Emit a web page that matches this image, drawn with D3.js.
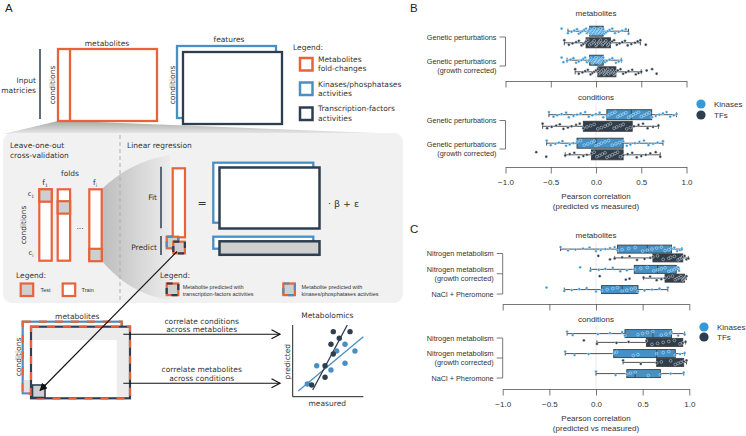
<!DOCTYPE html>
<html><head><meta charset="utf-8">
<script src="https://cdn.jsdelivr.net/npm/d3@7"></script>
<style>body{margin:0;background:#fff} svg{display:block}</style>
</head><body>
<svg id="c" width="746" height="436"></svg>
<script>
// ---------------- DATA ----------------
const huesBC = ["Kinases", "TFs"];
const facetTitles = ["metabolites", "conditions"];
const categoriesB = ["Genetic perturbations", "Genetic perturbations|(growth corrected)"];
const categoriesC = ["Nitrogen metabolism", "Nitrogen metabolism|(growth corrected)", "NaCl + Pheromone"];
const xTickValues = [-1, -0.5, 0, 0.5, 1];
const axisTitle = ["Pearson correlation", "(predicted vs measured)"];

// box stats: [whiskerLow, q1, median, q3, whiskerHigh]
const statsB_metabolites_Kinases = [[-0.31, -0.07, 0.01, 0.08, 0.36], [-0.32, -0.07, 0.0, 0.08, 0.28]];
const statsB_metabolites_TFs     = [[-0.35, -0.11, 0.03, 0.16, 0.49], [-0.23, 0.02, 0.12, 0.22, 0.50]];
const statsB_conditions_Kinases  = [[-0.52, 0.12, 0.39, 0.615, 0.89], [-0.545, -0.21, 0.0, 0.30, 0.74]];
const statsB_conditions_TFs      = [[-0.59, -0.14, 0.13, 0.40, 0.69], [-0.34, -0.05, 0.10, 0.30, 0.71]];
const statsC_metabolites_Kinases = [[-0.38, 0.23, 0.55, 0.81, 0.92], [-0.06, 0.41, 0.66, 0.86, 0.89], [-0.34, 0.06, 0.28, 0.45, 0.77]];
const statsC_metabolites_TFs     = [[0.20, 0.61, 0.80, 0.93, 0.99], [0.51, 0.74, 0.87, 0.95, 0.97], null];
const statsC_conditions_Kinases  = [[-0.31, 0.31, 0.61, 0.81, 0.95], [-0.33, 0.19, 0.65, 0.85, 0.95], [0.0, 0.33, 0.42, 0.69, 0.94]];
const statsC_conditions_TFs      = [[0.01, 0.54, 0.70, 0.93, 0.96], [0.29, 0.65, 0.77, 0.94, 0.97], null];

const pointsB_metabolites_Kinases = [
  [-0.38,-0.31,-0.27,-0.24,-0.21,-0.19,-0.17,-0.15,-0.13,-0.11,-0.1,-0.09,-0.08,-0.07,-0.06,-0.05,-0.04,-0.03,-0.02,-0.02,-0.01,0,0.01,0.01,0.02,0.03,0.04,0.05,0.05,0.06,0.07,0.08,0.09,0.11,0.13,0.15,0.18,0.21,0.25,0.29,0.33,0.36],
  [-0.38,-0.36,-0.32,-0.28,-0.25,-0.22,-0.19,-0.16,-0.14,-0.12,-0.1,-0.08,-0.07,-0.06,-0.04,-0.03,-0.02,-0.01,0,0,0.01,0.02,0.03,0.04,0.05,0.06,0.07,0.08,0.1,0.12,0.15,0.18,0.22,0.25,0.28]];
const pointsB_metabolites_TFs = [
  [-0.35,-0.3,-0.26,-0.22,-0.19,-0.16,-0.14,-0.12,-0.11,-0.09,-0.07,-0.05,-0.03,-0.02,0,0.01,0.03,0.04,0.05,0.07,0.08,0.1,0.11,0.13,0.14,0.16,0.18,0.2,0.23,0.26,0.29,0.32,0.35,0.39,0.43,0.46,0.49,0.55],
  [-0.23,-0.19,-0.15,-0.12,-0.09,-0.06,-0.04,-0.02,0,0.02,0.03,0.05,0.06,0.08,0.09,0.1,0.11,0.12,0.13,0.14,0.16,0.17,0.18,0.2,0.21,0.22,0.24,0.27,0.3,0.33,0.36,0.4,0.44,0.47,0.5,0.56,0.62,0.67]];
const pointsB_conditions_Kinases = [
  [-0.52,-0.47,-0.43,-0.38,-0.33,-0.3,-0.25,-0.21,-0.17,-0.12,-0.08,-0.04,0.0,0.04,0.08,0.12,0.15,0.18,0.21,0.24,0.27,0.3,0.33,0.36,0.39,0.41,0.44,0.47,0.5,0.53,0.56,0.59,0.62,0.66,0.7,0.74,0.78,0.82,0.86,0.89],
  [-0.545,-0.5,-0.45,-0.41,-0.37,-0.33,-0.29,-0.25,-0.21,-0.17,-0.13,-0.09,-0.05,-0.02,0,0.03,0.06,0.1,0.14,0.18,0.22,0.26,0.3,0.34,0.38,0.43,0.48,0.53,0.58,0.63,0.68,0.74]];
const pointsB_conditions_TFs = [
  [-0.59,-0.54,-0.49,-0.44,-0.4,-0.36,-0.31,-0.27,-0.22,-0.18,-0.14,-0.1,-0.06,-0.02,0.02,0.06,0.1,0.13,0.16,0.2,0.23,0.27,0.3,0.34,0.38,0.42,0.47,0.52,0.57,0.63,0.69],
  [-0.66,-0.55,-0.34,-0.29,-0.24,-0.19,-0.14,-0.1,-0.05,-0.02,0.01,0.04,0.07,0.1,0.12,0.15,0.18,0.21,0.24,0.27,0.3,0.35,0.4,0.45,0.5,0.55,0.6,0.66,0.71]];
const pointsC_metabolites_Kinases = [
  [-0.38,-0.3,-0.22,-0.14,-0.07,0.0,0.05,0.1,0.15,0.2,0.23,0.28,0.35,0.42,0.5,0.55,0.6,0.65,0.7,0.74,0.78,0.81,0.84,0.87,0.9,0.92],
  [-0.17,-0.06,0.03,0.1,0.18,0.26,0.33,0.41,0.48,0.55,0.62,0.66,0.7,0.74,0.78,0.81,0.84,0.86,0.88,0.89],
  [-0.53,-0.34,-0.26,-0.18,-0.1,0.0,0.06,0.12,0.18,0.23,0.28,0.33,0.38,0.42,0.45,0.52,0.6,0.68,0.77]];
const pointsC_metabolites_TFs = [
  [0.025,0.15,0.2,0.28,0.36,0.44,0.52,0.58,0.61,0.66,0.72,0.78,0.8,0.84,0.88,0.9,0.92,0.93,0.95,0.97,0.99],
  [0.04,0.32,0.36,0.51,0.58,0.65,0.7,0.74,0.78,0.82,0.85,0.87,0.89,0.91,0.93,0.94,0.95,0.96,0.97],
  []];
const pointsC_conditions_Kinases = [
  [-0.31,-0.25,0.02,0.15,0.28,0.31,0.45,0.5,0.55,0.61,0.7,0.75,0.8,0.81,0.88,0.95],
  [-0.33,-0.23,-0.08,0.19,0.22,0.4,0.45,0.65,0.72,0.78,0.85,0.9,0.95],
  [0.0,0.21,0.33,0.37,0.42,0.56,0.69,0.8,0.94]];
const pointsC_conditions_TFs = [
  [-0.13,0.01,0.22,0.35,0.54,0.6,0.66,0.72,0.78,0.84,0.9,0.93,0.96],
  [0.29,0.48,0.65,0.7,0.8,0.85,0.88,0.91,0.94,0.97],
  []];

// schematic scatter (panel A, "Metabolomics")
const schemMeasuredDark  = [5.75, 8.12, 6.6, 5.42, 5.75, 4.58, 4.58, 2.69];
const schemPredictedDark = [9.07, 9.07, 8.15, 7.31, 5.96, 4.32, 2.71, 1.63];
const schemMeasuredBlue  = [7.41, 6.23, 8.82, 3.4, 5.42, 7.41, 2.07];
const schemPredictedBlue = [7.31, 6.37, 6.37, 4.32, 3.72, 4.66, 1.77];
const schemFitDark = [[2.83, 0.93], [7.73, 10.0]];
const schemFitBlue = [[0.79, 0.79], [10.0, 8.37]];

// ---------------- STYLE ----------------
const svg = d3.select("#c");
const ORANGE = "#e8623a", BLUE = "#4a8fc1", DARK = "#2c3e50", GRAYF = "#cfcfcf", PANEL = "#f1f1f1";
const KIN = "#3498db", TF = "#2c3e50", KINBOX = "#4790c4", TFBOX = "#303e4b", LINE = "#3d3d3d";
const FA = "DejaVu Sans, Verdana, sans-serif";
const FB = "Liberation Sans, Arial, Helvetica, sans-serif";
const TXT = "#333";

const defs = svg.append("defs");
const g1 = defs.append("linearGradient").attr("id", "wedge1").attr("x1", 0).attr("y1", 0).attr("x2", 0).attr("y2", 1);
g1.append("stop").attr("offset", 0).attr("stop-color", "#a9a9a9");
g1.append("stop").attr("offset", 1).attr("stop-color", "#e9e9e9");
const g2 = defs.append("linearGradient").attr("id", "wedge2").attr("x1", 0).attr("y1", 0).attr("x2", 1).attr("y2", 0);
g2.append("stop").attr("offset", 0).attr("stop-color", "#bdbdbd");
g2.append("stop").attr("offset", 1).attr("stop-color", "#ececec");
defs.append("marker").attr("id", "ah").attr("viewBox", "0 0 10 10").attr("refX", 9).attr("refY", 5)
  .attr("markerWidth", 7).attr("markerHeight", 7).attr("orient", "auto")
  .append("path").attr("d", "M0,0 L10,5 L0,10 Z").attr("fill", "#111");

function txt(x, y, s, o = {}) {
  return svg.append("text").attr("x", x).attr("y", y).text(s)
    .attr("font-family", o.ff || FA).attr("font-size", o.fs || 7.5)
    .attr("fill", o.fill || TXT).attr("text-anchor", o.anchor || "start");
}
function vtxt(x, y, s, o = {}) {
  return svg.append("text").attr("transform", `translate(${x},${y}) rotate(-90)`).text(s)
    .attr("font-family", o.ff || FA).attr("font-size", o.fs || 7.5)
    .attr("fill", o.fill || TXT).attr("text-anchor", "middle");
}
function box(x, y, w, h, stroke, fill = "#fff", sw = 2.3) {
  return svg.append("rect").attr("x", x).attr("y", y).attr("width", w).attr("height", h)
    .attr("fill", fill).attr("stroke", stroke).attr("stroke-width", sw);
}
function dualBox(x, y, w, h, c1, c2, fill, sw, dash) {
  box(x, y, w, h, c1, fill, sw);
  svg.append("rect").attr("x", x).attr("y", y).attr("width", w).attr("height", h)
    .attr("fill", "none").attr("stroke", c2).attr("stroke-width", sw).attr("stroke-dasharray", dash);
}

// ---------------- PANEL LETTERS ----------------
txt(5, 12, "A", { ff: FB, fs: 11.5, fill: "#222" });
txt(410, 12, "B", { ff: FB, fs: 11.5, fill: "#222" });
txt(410, 233, "C", { ff: FB, fs: 11.5, fill: "#222" });

// ---------------- PANEL A: top ----------------
svg.append("line").attr("x1", 40).attr("x2", 40).attr("y1", 49).attr("y2", 119).attr("stroke", DARK).attr("stroke-width", 1.5);
txt(36, 83, "Input", { anchor: "end" });
txt(36, 93, "matricies", { anchor: "end" });
// projection wedge
svg.append("path").attr("d", "M58,121 L70,121 L403,134 L3,134 Z").attr("fill", "url(#wedge1)");
box(58, 49, 99, 72, ORANGE);
svg.append("line").attr("x1", 70).attr("x2", 70).attr("y1", 49).attr("y2", 121).attr("stroke", ORANGE).attr("stroke-width", 2.3);
txt(107, 45.5, "metabolites", { anchor: "middle" });
vtxt(54.5, 85, "conditions");
box(177, 46, 99, 72, BLUE);
box(183, 52, 99, 72, DARK);
txt(229, 42, "features", { anchor: "middle" });
vtxt(174.5, 85, "conditions");
// legend
txt(293, 50, "Legend:");
box(300, 58, 12.5, 12.5, ORANGE, "#fff", 2.5);
box(300, 82.5, 12.5, 12.5, BLUE, "#fff", 2.5);
box(300, 107.5, 12.5, 12.5, DARK, "#fff", 2.5);
txt(318, 62, "Metabolites"); txt(318, 71, "fold-changes");
txt(318, 86.5, "Kinases/phosphatases"); txt(318, 95.5, "activities");
txt(318, 111, "Transcription-factors"); txt(318, 120.5, "activities");

// ---------------- PANEL A: middle grey panel ----------------
svg.append("rect").attr("x", 3).attr("y", 133).attr("width", 400).attr("height", 170).attr("rx", 9).attr("fill", PANEL);
svg.append("path").attr("d", "M102,189 C120,172 140,160 170,155 L 170,300 C140,296 118,280 102,261 Z").attr("fill", "url(#wedge2)");
svg.append("line").attr("x1", 120).attr("x2", 120).attr("y1", 135).attr("y2", 300)
  .attr("stroke", "#aaa").attr("stroke-width", 0.9).attr("stroke-dasharray", "4,3");
txt(10, 148, "Leave-one-out"); txt(10, 158, "cross-validation");
txt(127, 148, "Linear regression");
txt(70, 176, "folds", { anchor: "middle" });
const fLab = (x, sub) => {
  const t = txt(x, 185, "f", { anchor: "middle" });
  t.append("tspan").attr("font-size", 4.5).attr("dy", 1.5).text(sub);
};
fLab(45, "1"); fLab(95, "i");
const cLab = (y, sub) => {
  const t = txt(31, y, "c", { anchor: "middle", fs: 6.5 });
  t.append("tspan").attr("font-size", 4.5).attr("dy", 1.5).text(sub);
};
cLab(196, "1"); cLab(255, "i");
vtxt(26, 225, "conditions");
// fold columns
const foldX = [39.3, 57.7, 89.3], foldTest = [0, 1, 5];
foldX.forEach((fx, k) => {
  box(fx, 189.3, 12.4, 71.4, ORANGE, "#fff", 2.2);
  const ty = 189.3 + foldTest[k] * 11.9;
  box(fx, ty, 12.4, 12.4, ORANGE, GRAYF, 2.2);
});
txt(80, 229, "...", { anchor: "middle" });
txt(16, 278, "Legend:");
box(20.7, 283.5, 12.5, 12.5, ORANGE, GRAYF, 2.2);
box(62.7, 283.5, 12.5, 12.5, ORANGE, "#fff", 2.2);
txt(40.5, 292, "Test", { ff: FB, fs: 5.5 });
txt(81.5, 292, "Train", { ff: FB, fs: 5.5 });
// regression
svg.append("line").attr("x1", 161).attr("x2", 161).attr("y1", 166.7).attr("y2", 228.3).attr("stroke", DARK).attr("stroke-width", 1.5);
txt(157, 199.5, "Fit", { anchor: "end" });
box(172.7, 168.3, 12.3, 69, ORANGE, "#fff", 2.2);
txt(202, 207, "=", { anchor: "middle", fs: 11 });
box(213.3, 162.7, 100, 60, BLUE);
box(219.5, 167.5, 100, 61, DARK, "#fff", 2.5);
txt(328, 206.5, "· β +  ε", { fs: 9.5 });
svg.append("line").attr("x1", 161).attr("x2", 161).attr("y1", 236).attr("y2", 255).attr("stroke", DARK).attr("stroke-width", 1.5);
txt(157, 250, "Predict", { anchor: "end" });
dualBox(166.7, 236.7, 11.6, 11.6, ORANGE, BLUE, GRAYF, 2.2, "6,6");
dualBox(173.3, 241.7, 11.6, 11.6, ORANGE, DARK, GRAYF, 2.2, "6,6");
box(213.3, 236.7, 100, 12, BLUE);
box(219.5, 241.3, 100, 13.5, DARK, GRAYF, 2.5);
txt(160, 278, "Legend:");
dualBox(166.7, 283.5, 11.6, 11.6, ORANGE, DARK, GRAYF, 2.2, "6,6");
txt(182.7, 288.5, "Metabolite predicted with", { ff: FB, fs: 5.5 });
txt(182.7, 295.5, "transcription-factors activities", { ff: FB, fs: 5.5 });
dualBox(283.3, 283.5, 11.6, 11.6, ORANGE, BLUE, GRAYF, 2.2, "6,6");
txt(301.5, 288.5, "Metabolite predicted with", { ff: FB, fs: 5.5 });
txt(301.5, 295.5, "kinases/phosphatases activities", { ff: FB, fs: 5.5 });

// ---------------- PANEL A: bottom ----------------
txt(77.3, 318.5, "metabolites", { anchor: "middle" });
vtxt(21, 357, "conditions");
dualBox(22.7, 321.7, 99, 71.6, BLUE, ORANGE, "#fff", 2.2, "8,8");
svg.append("rect").attr("x", 23.8).attr("y", 380).attr("width", 8).attr("height", 12.2).attr("fill", "#e3e3e3");
svg.append("rect").attr("x", 31).attr("y", 326.7).attr("width", 99).attr("height", 71.6).attr("fill", "#fff");
svg.append("rect").attr("x", 32).attr("y", 328).attr("width", 97).attr("height", 12).attr("fill", "#ececec");
svg.append("rect").attr("x", 116.7).attr("y", 328).attr("width", 12.3).attr("height", 69.5).attr("fill", "#ececec");
dualBox(31, 326.7, 99, 71.6, DARK, ORANGE, "none", 2.2, "8,8");
box(32.5, 385, 12.5, 12.5, DARK, GRAYF, 1.6);
txt(201.7, 323.5, "correlate conditions", { anchor: "middle" });
txt(201.7, 332, "across metabolites", { anchor: "middle" });
txt(201.7, 372, "correlate metabolites", { anchor: "middle" });
txt(201.7, 381, "across conditions", { anchor: "middle" });
[334.3, 383.3].forEach(yy => {
  svg.append("line").attr("x1", 123.3).attr("x2", 280).attr("y1", yy).attr("y2", yy).attr("stroke", "#111").attr("stroke-width", 1.1);
  svg.append("path").attr("d", `M271.5,${yy - 4.5} L280,${yy} L271.5,${yy + 4.5}`).attr("fill", "none").attr("stroke", "#111").attr("stroke-width", 1.2);
});
// arrow from predicted cell to bottom matrix
svg.append("line").attr("x1", 177).attr("y1", 251.5).attr("x2", 40).attr("y2", 390.5)
  .attr("stroke", "#111").attr("stroke-width", 1.1).attr("marker-end", "url(#ah)");

// schematic scatter
const sx = d3.scaleLinear().domain([0, 10]).range([292.7, 363.3]);
const sy = d3.scaleLinear().domain([0, 10]).range([396.7, 325]);
txt(327.3, 318, "Metabolomics", { anchor: "middle" });
svg.append("path").attr("d", `M${sx(0)},${sy(10)} L${sx(0)},${sy(0)} L${sx(10)},${sy(0)}`).attr("fill", "none").attr("stroke", "#222").attr("stroke-width", 1);
vtxt(289.5, 361.7, "predicted");
txt(327.3, 406, "measured", { anchor: "middle" });
const line = d3.line().x(d => sx(d[0])).y(d => sy(d[1]));
svg.append("path").attr("d", line(schemFitBlue)).attr("stroke", BLUE).attr("stroke-width", 1.3).attr("fill", "none");
svg.append("path").attr("d", line(schemFitDark)).attr("stroke", DARK).attr("stroke-width", 1.3).attr("fill", "none");
schemMeasuredBlue.forEach((m, i) => svg.append("circle").attr("cx", sx(m)).attr("cy", sy(schemPredictedBlue[i])).attr("r", 2.7).attr("fill", BLUE));
schemMeasuredDark.forEach((m, i) => svg.append("circle").attr("cx", sx(m)).attr("cy", sy(schemPredictedDark[i])).attr("r", 2.7).attr("fill", DARK));

// ---------------- PANELS B & C ----------------
function drawFacet(o) {
  const { x, cats, yRange, hueOff, boxH, stats, pts, axisY, title, titleY, labels, jit } = o;
  const y = d3.scalePoint().domain(cats).range(yRange);
  const g = svg.append("g");
  g.append("line").attr("x1", x(0)).attr("x2", x(0)).attr("y1", titleY + 4).attr("y2", axisY)
    .attr("stroke", "#e4e4e4").attr("stroke-width", 0.8);
  g.append("text").attr("x", x(0)).attr("y", titleY).attr("text-anchor", "middle")
    .attr("font-family", FB).attr("font-size", 8).attr("fill", TXT).text(title);
  // y bracket axis
  const xl = x(-1);
  g.append("path").attr("d", `M${xl},${yRange[0]} L${xl},${yRange[1]}`).attr("stroke", "#555").attr("stroke-width", 0.8).attr("fill", "none");
  cats.forEach(c => {
    g.append("line").attr("x1", xl - 6).attr("x2", xl).attr("y1", y(c)).attr("y2", y(c)).attr("stroke", "#555").attr("stroke-width", 0.8);
    const parts = c.split("|");
    const t = g.append("text").attr("x", xl - 9).attr("text-anchor", "end").attr("font-family", FB).attr("font-size", 7.3).attr("fill", TXT);
    parts.forEach((p, k) => t.append("tspan").attr("x", xl - 9).attr("y", y(c) + 2.6 + (k - (parts.length - 1) / 2) * 8.3).text(p));
  });
  // x axis
  const ax = d3.axisBottom(x).tickValues(xTickValues).tickSize(6.5).tickSizeOuter(0).tickFormat(labels ? d3.format(".1f") : "");
  const ag = g.append("g").attr("transform", `translate(0,${axisY})`).call(ax);
  ag.selectAll("path,line").attr("stroke", "#555").attr("stroke-width", 0.8);
  ag.selectAll("text").attr("font-family", FB).attr("font-size", 8).attr("fill", TXT).attr("dy", "1.1em");
  if (labels) {
    axisTitle.forEach((s, k) => g.append("text").attr("x", x(0)).attr("y", axisY + 32 + k * 9.5).attr("text-anchor", "middle")
      .attr("font-family", FB).attr("font-size", 8).attr("fill", TXT).text(s));
  }
  huesBC.forEach((h, hi) => {
    const off = hi === 0 ? -hueOff : hueOff;
    const boxc = hi === 0 ? KINBOX : TFBOX, ptc = hi === 0 ? KIN : TF;
    stats[hi].forEach((s, i) => {
      if (!s) return;
      const cy = y(cats[i]) + off;
      const ln = (x1, x2, y1, y2) => g.append("line").attr("x1", x1).attr("x2", x2).attr("y1", y1).attr("y2", y2).attr("stroke", LINE).attr("stroke-width", 0.9);
      ln(x(s[0]), x(s[1]), cy, cy);
      ln(x(s[3]), x(s[4]), cy, cy);
      ln(x(s[0]), x(s[0]), cy - boxH * 0.25, cy + boxH * 0.25);
      ln(x(s[4]), x(s[4]), cy - boxH * 0.25, cy + boxH * 0.25);
      g.append("rect").attr("x", x(s[1])).attr("y", cy - boxH / 2).attr("width", x(s[3]) - x(s[1])).attr("height", boxH)
        .attr("fill", boxc).attr("stroke", LINE).attr("stroke-width", 0.9);
      ln(x(s[2]), x(s[2]), cy - boxH / 2, cy + boxH / 2);
    });
    pts[hi].forEach((arr, i) => {
      const cy = y(cats[i]) + off;
      arr.forEach((v, j) => {
        const jo = (((j * 7) % 9) - 4) / 4 * jit;
        g.append("circle").attr("cx", x(v)).attr("cy", cy + jo).attr("r", 1.4)
          .attr("fill", ptc).attr("stroke", "#fff").attr("stroke-width", 0.45).attr("stroke-opacity", 0.9);
      });
    });
  });
}
function legend(cx, cy, dy) {
  huesBC.forEach((h, i) => {
    svg.append("circle").attr("cx", cx).attr("cy", cy + i * dy).attr("r", 4.6).attr("fill", i === 0 ? KIN : TF);
    svg.append("text").attr("x", cx + 13).attr("y", cy + i * dy + 2.8).attr("font-family", FB).attr("font-size", 8).attr("fill", TXT).text(h);
  });
}

const xB = d3.scaleLinear().domain([-1, 1]).range([505.5, 686.5]);
const xC = d3.scaleLinear().domain([-1, 1]).range([502.7, 689.3]);

drawFacet({ x: xB, cats: categoriesB, yRange: [37, 66], hueOff: 5.8, boxH: 10, jit: 2.6,
  stats: [statsB_metabolites_Kinases, statsB_metabolites_TFs], pts: [pointsB_metabolites_Kinases, pointsB_metabolites_TFs],
  axisY: 81, title: facetTitles[0], titleY: 16, labels: false });
drawFacet({ x: xB, cats: categoriesB, yRange: [120.5, 149], hueOff: 5.8, boxH: 10, jit: 2.6,
  stats: [statsB_conditions_Kinases, statsB_conditions_TFs], pts: [pointsB_conditions_Kinases, pointsB_conditions_TFs],
  axisY: 167, title: facetTitles[1], titleY: 100, labels: true });
legend(701, 104, 11);

drawFacet({ x: xC, cats: categoriesC, yRange: [253.5, 294], hueOff: 4.4, boxH: 8, jit: 2,
  stats: [statsC_metabolites_Kinases, statsC_metabolites_TFs], pts: [pointsC_metabolites_Kinases, pointsC_metabolites_TFs],
  axisY: 304, title: facetTitles[0], titleY: 238, labels: false });
drawFacet({ x: xC, cats: categoriesC, yRange: [338, 378], hueOff: 4.4, boxH: 8, jit: 2,
  stats: [statsC_conditions_Kinases, statsC_conditions_TFs], pts: [pointsC_conditions_Kinases, pointsC_conditions_TFs],
  axisY: 389, title: facetTitles[1], titleY: 322, labels: true });
legend(704, 327, 10);
</script>
</body></html>
